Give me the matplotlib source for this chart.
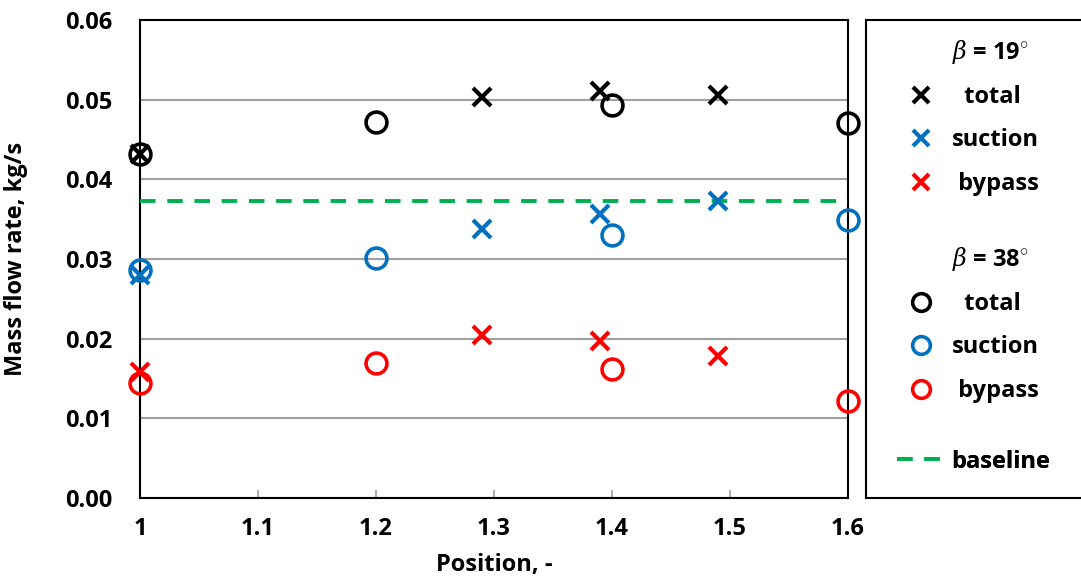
import matplotlib.pyplot as plt
from matplotlib.lines import Line2D

plt.rcParams['font.family'] = ['Open Sans', 'DejaVu Sans']
plt.rcParams['font.weight'] = 'bold'
plt.rcParams['mathtext.fontset'] = 'custom'
plt.rcParams['mathtext.it'] = 'DejaVu Serif:style=italic:weight=normal'
plt.rcParams['mathtext.rm'] = 'Open Sans:weight=bold'

# beta = 19 deg (x markers)
pos_19 = [1.0, 1.29, 1.39, 1.49]
total_19 = [0.0432, 0.0503, 0.0511, 0.0506]
suction_19 = [0.0280, 0.0338, 0.0356, 0.0373]
bypass_19 = [0.0158, 0.0205, 0.0197, 0.0178]

# beta = 38 deg (circles)
pos_38 = [1.0, 1.2, 1.4, 1.6]
total_38 = [0.0432, 0.0472, 0.0493, 0.0471]
suction_38 = [0.0286, 0.0301, 0.0330, 0.0349]
bypass_38 = [0.0144, 0.0169, 0.0162, 0.0122]

baseline = 0.0373

xticks = [1.0, 1.1, 1.2, 1.3, 1.4, 1.5, 1.6]
xlabels = ['1', '1.1', '1.2', '1.3', '1.4', '1.5', '1.6']
yticks = [0.0, 0.01, 0.02, 0.03, 0.04, 0.05, 0.06]

black = 'black'
blue = '#0070C0'
red = '#FF0000'
green = '#00B050'

fig = plt.figure(figsize=(10.81, 5.87), dpi=100)
ax = fig.add_axes([140/1081, 89/587, 708/1081, 478/587])

xkw = dict(ls='none', marker='x', ms=13, mew=3, clip_on=False, zorder=5)
okw = dict(ls='none', marker='o', ms=15, mew=2.6, mfc='none', clip_on=False, zorder=5)

h_t19, = ax.plot(pos_19, total_19, color=black, **xkw)
h_s19, = ax.plot(pos_19, suction_19, color=blue, **xkw)
h_b19, = ax.plot(pos_19, bypass_19, color=red, **xkw)
h_t38, = ax.plot(pos_38, total_38, mec=black, **okw)
h_s38, = ax.plot(pos_38, suction_38, mec=blue, **okw)
h_b38, = ax.plot(pos_38, bypass_38, mec=red, **okw)
h_base = ax.axhline(baseline, color=green, ls=(0, (4, 3)), lw=2.8, zorder=4)

ax.set_xlim(1.0, 1.6)
ax.set_ylim(0, 0.06)
ax.set_xticks(xticks)
ax.set_xticklabels(xlabels)
ax.set_yticks(yticks)
ax.set_yticklabels(['%.2f' % v for v in yticks])
ax.yaxis.grid(True, color='#a0a0a0', lw=1.5)
ax.set_axisbelow(True)
ax.tick_params(axis='y', length=0, pad=20, labelsize=17)
ax.tick_params(axis='x', direction='in', length=6, color='#a0a0a0', width=1.2,
               pad=14, labelsize=17)
for s in ax.spines.values():
    s.set_linewidth(1.5)
    s.set_color('black')

ax.set_xlabel('Position, -', fontsize=17, fontweight='bold', labelpad=8)
ax.set_ylabel('Mass flow rate, kg/s', fontsize=17, fontweight='bold')
ax.yaxis.set_label_coords(-0.158, 0.5)

# legend box
lax = fig.add_axes([866/1081, 89/587, 0.25, 478/587])
lax.set_xticks([])
lax.set_yticks([])
for s in lax.spines.values():
    s.set_linewidth(1.5)

blank = Line2D([], [], ls='none')
legkw = dict(loc='upper left', frameon=False, fontsize=17, handlelength=2.0,
             handletextpad=0.3, labelspacing=0.82, borderaxespad=0.35,
             markerscale=0.85)

groups = [
    ([blank, h_t19, h_s19, h_b19],
     [r'$\beta$ = 19$^{\circ}$', '  total', 'suction', ' bypass'], 1.0),
    ([blank, h_t38, h_s38, h_b38],
     [r'$\beta$ = 38$^{\circ}$', '  total', 'suction', ' bypass'], 0.567),
    ([h_base], ['baseline'], 0.138),
]
for hs, ls, ytop in groups:
    lg = lax.legend(hs, ls, bbox_to_anchor=(0.05, ytop), **legkw)
    lax.add_artist(lg)

fig.savefig('out.png', dpi=100)
